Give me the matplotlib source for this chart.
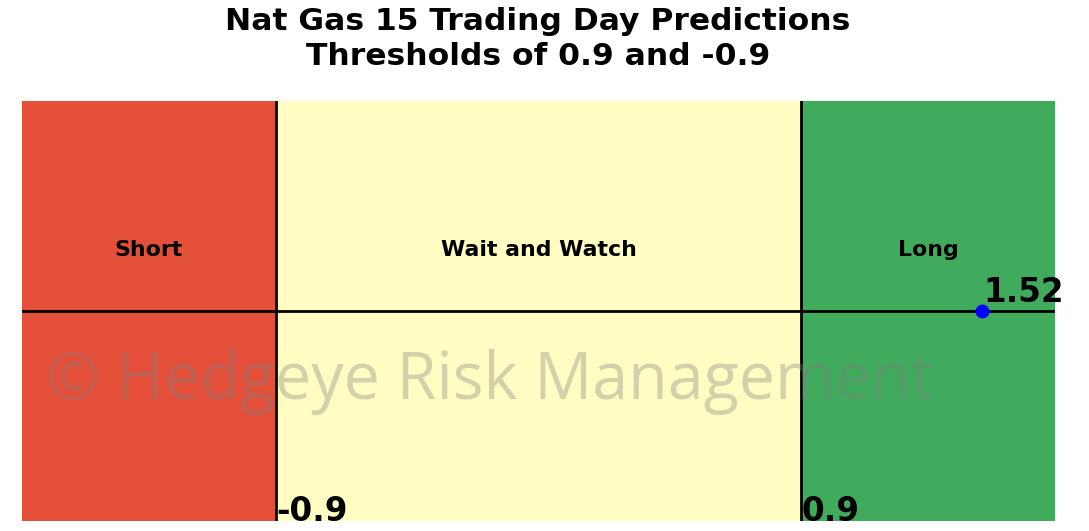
import numpy as np
import matplotlib
matplotlib.use("Agg")
from matplotlib import pyplot as plt

########## data ##########
title_lines = ["Nat Gas 15 Trading Day Predictions", "Thresholds of 0.9 and -0.9"]
lower_thr = -0.9
upper_thr = 0.9
x_limit = 1.77
prediction = 1.52
zone_names = ["Short", "Wait and Watch", "Long"]
zone_colors = ["#E5503A", "#FFFDC1", "#41AB5D"]

########## figure ##########
fig = plt.figure(figsize=(10.89, 5.31), dpi=100)
ax = fig.add_axes([22/1089, 1 - 521/531, (1055 - 22)/1089, (521 - 101)/531])

edges = [-x_limit, lower_thr, upper_thr, x_limit]
for i in range(3):
    ax.axvspan(edges[i], edges[i+1], color=zone_colors[i], lw=0)
    ax.text((edges[i] + edges[i+1]) / 2, 0.29, zone_names[i],
            ha='center', va='center', fontsize=15.8, fontweight='bold')

ax.axhline(0, color='black', lw=2)
ax.axvline(lower_thr, color='black', lw=2)
ax.axvline(upper_thr, color='black', lw=2)

ax.plot([prediction], [0], 'o', color='blue', markersize=9, zorder=5)
ax.text(prediction + 0.005, 0.01, f"{prediction:.2f}", ha='left', va='bottom',
        fontsize=23.5, fontweight='bold')

ax.text(lower_thr, -1.0, str(lower_thr), ha='left', va='baseline',
        fontsize=23.5, fontweight='bold', clip_on=True)
ax.text(upper_thr, -1.0, str(upper_thr), ha='left', va='baseline',
        fontsize=23.5, fontweight='bold', clip_on=True)

ax.set_xlim(-x_limit, x_limit)
ax.set_ylim(-1, 1)
ax.axis('off')

fig.text(490/1089, 1 - 382/531, "\u00a9 Hedgeye Risk Management",
         ha='center', va='center', fontsize=46.5, color='gray', alpha=0.35,
         family='Open Sans')

fig.text(538/1089, 1 - 39/531, "\n".join(title_lines), ha='center', va='center',
         fontsize=22.6, fontweight='bold', linespacing=1.25)

fig.savefig("out.png", dpi=100)
